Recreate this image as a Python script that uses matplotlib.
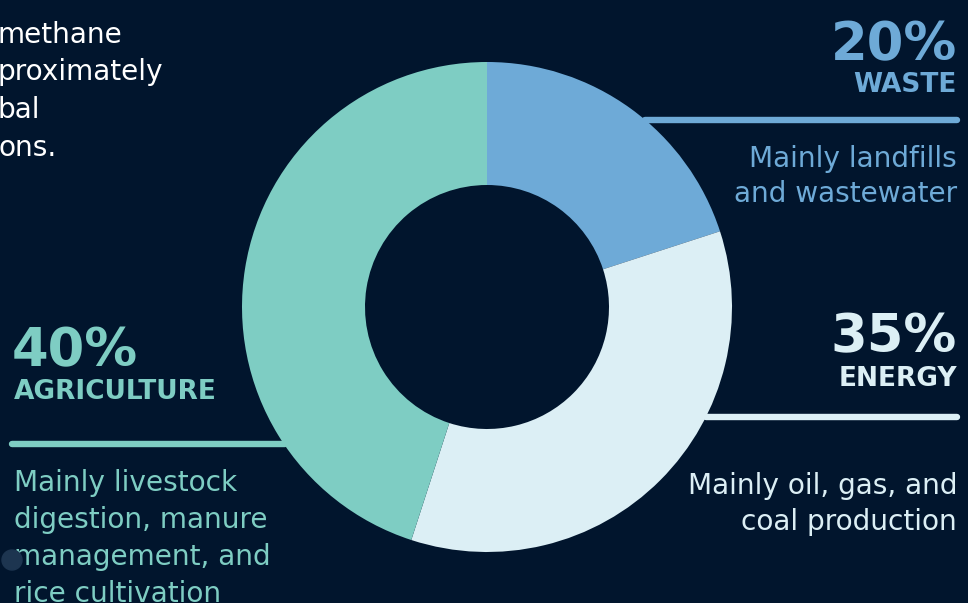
import matplotlib
matplotlib.use("Agg")
import matplotlib.pyplot as plt

# === DATA ===
sectors = ["WASTE", "ENERGY", "AGRICULTURE"]
pct_labels = ["20%", "35%", "40%"]
slice_shares = [20, 35, 45]  # share of the ring as drawn
descriptions = [
    ["Mainly landfills", "and wastewater"],
    ["Mainly oil, gas, and", "coal production"],
    ["Mainly livestock", "digestion, manure", "management, and", "rice cultivation"],
]
intro_lines = ["methane", "proximately", "bal", "ons."]

# === STYLE ===
BG = "#01152d"
colors = ["#6eaad7", "#dceff5", "#7ecdc3"]
W, H = 968, 603
plt.rcParams["font.family"] = ["DejaVu Sans"]

fig = plt.figure(figsize=(W / 100, H / 100), dpi=100, facecolor=BG)
ax = fig.add_axes([0, 0, 1, 1])
ax.set_facecolor(BG)


def Y(y):
    # pixel row from top -> data y
    return H - y


# donut
ax.pie(slice_shares, colors=colors, startangle=90, counterclock=False,
       center=(487, Y(307)), radius=245,
       wedgeprops=dict(width=123, linewidth=0), frame=True)

# connector lines (behind the ring)
lines = [(645, 957, 120), (706, 957, 417), (12, 285, 444)]
for (x0, x1, y), c in zip(lines, colors):
    ax.plot([x0, x1], [Y(y), Y(y)], color=c, lw=4.6, solid_capstyle="round", zorder=0)

# labels
big = dict(fontsize=38, fontweight="heavy", va="baseline")
cap = dict(fontsize=19, fontweight="bold", va="baseline")
body = dict(fontsize=20.2, va="baseline")

# waste (right, top)
ax.text(957, Y(60), pct_labels[0], color=colors[0], ha="right", **big)
ax.text(957, Y(92), sectors[0], color=colors[0], ha="right", **cap)
for i, s in enumerate(descriptions[0]):
    ax.text(957, Y(167 + 35 * i), s, color=colors[0], ha="right", **body)

# energy (right, middle)
ax.text(957, Y(352), pct_labels[1], color=colors[1], ha="right", **big)
ax.text(957, Y(386), sectors[1], color=colors[1], ha="right", **cap)
for i, s in enumerate(descriptions[1]):
    ax.text(957, Y(494 + 36 * i), s, color=colors[1], ha="right", **body)

# agriculture (left)
ax.text(12, Y(366), pct_labels[2], color=colors[2], ha="left", **big)
ax.text(14, Y(399), sectors[2], color=colors[2], ha="left", **cap)
for i, s in enumerate(descriptions[2]):
    ax.text(14, Y(491 + 37 * i), s, color=colors[2], ha="left", **body)

# cut-off intro paragraph, top left
for i, s in enumerate(intro_lines):
    ax.text(-2, Y(43 + 37.5 * i), s, color="white", ha="left", **body)

# small scroll dot
ax.add_patch(plt.Circle((12, Y(560)), 10, color="#1d3550", zorder=5))

ax.set_xlim(0, W)
ax.set_ylim(0, H)
ax.set_aspect("equal")
ax.axis("off")

fig.savefig("out.png", dpi=100, facecolor=BG)
